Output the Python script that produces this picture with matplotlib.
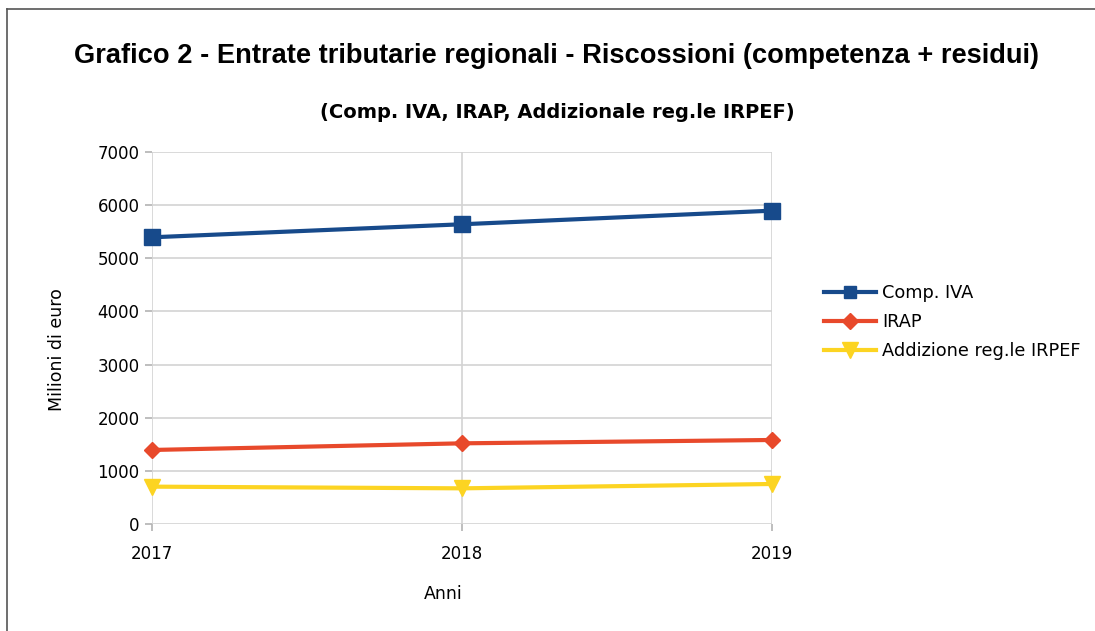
import matplotlib
matplotlib.use("Agg")
import matplotlib.pyplot as plt
from matplotlib.lines import Line2D

plt.rcParams['font.family'] = ['DejaVu Sans']

anni = [2017, 2018, 2019]
comp_iva = [5395, 5640, 5896]
irap = [1393, 1518, 1581]
addizionale = [703, 671, 753]

fig = plt.figure(figsize=(10.95, 6.31), dpi=100)
ax = fig.add_axes([152 / 1095, 1 - 524 / 631, 620 / 1095, 372 / 631])

ax.plot(anni, comp_iva, color='#174a8b', lw=3, marker='s', ms=11,
        label='Comp. IVA', clip_on=False, zorder=3)
ax.plot(anni, irap, color='#e8492b', lw=3, marker='D', ms=8,
        label='IRAP', clip_on=False, zorder=3)
ax.plot(anni, addizionale, color='#fcd422', lw=3, marker='v', ms=12,
        label='Addizione reg.le IRPEF', clip_on=False, zorder=3)

ax.set_xlim(2017, 2019)
ax.set_ylim(0, 7000)
ax.set_xticks(anni)
ax.set_yticks(range(0, 7001, 1000))
ax.grid(True, color='#d3d3d3', lw=1.2)
ax.set_axisbelow(True)
for s in ax.spines.values():
    s.set_visible(False)
ax.tick_params(color='#b3b3b3', length=5, width=1.2, labelsize=12, pad=4)
ax.tick_params(axis='x', pad=10)

ax.set_ylabel('Milioni di euro', fontsize=12.5, va='center')
ax.yaxis.set_label_coords((57 - 152) / 620, (524 - 350) / 372)
ax.set_xlabel('Anni', fontsize=12.5, va='center')
ax.xaxis.set_label_coords((443 - 152) / 620, -70 / 372)

fig.text(557 / 1095, 1 - 56 / 631, 'Grafico 2 - Entrate tributarie regionali - Riscossioni (competenza + residui)',
         ha='center', va='center', fontsize=19.6, fontweight='bold', family='Liberation Sans')
fig.text(557 / 1095, 1 - 112 / 631, '(Comp. IVA, IRAP, Addizionale reg.le IRPEF)',
         ha='center', va='center', fontsize=14, fontweight='bold')

leg = ax.legend(loc='center left', bbox_to_anchor=(808 / 1095, 1 - 322 / 631),
                bbox_transform=fig.transFigure, frameon=False, fontsize=12.8,
                handlelength=2.9, handletextpad=0.35, labelspacing=0.62)
leg.legend_handles[0].set_markersize(9)

# frame around the chart (left and top only visible)
fig.add_artist(Line2D([7 / 1095, 7 / 1095], [0, 1 - 9 / 631], color='#555555', lw=1.2,
                      transform=fig.transFigure))
fig.add_artist(Line2D([7 / 1095, 1], [1 - 9 / 631, 1 - 9 / 631], color='#555555', lw=1.2,
                      transform=fig.transFigure))

fig.savefig('out.png', dpi=100)
